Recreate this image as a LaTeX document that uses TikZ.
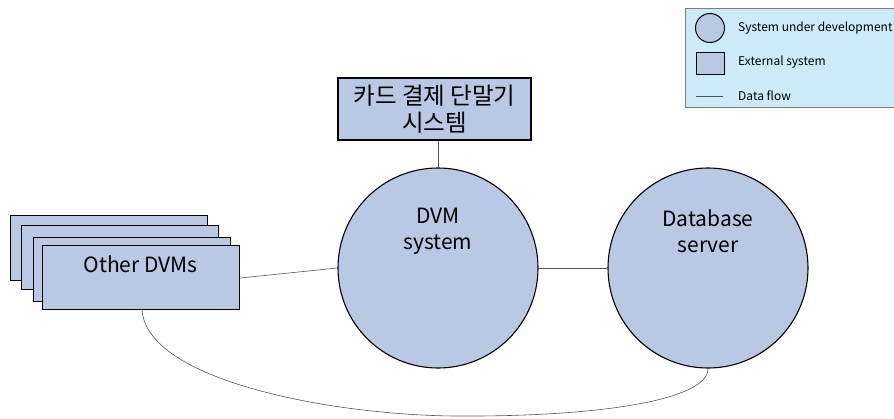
\documentclass[tikz,border=0pt]{standalone}
\usepackage{fontspec}
\setmainfont{Noto Sans CJK KR}
\definecolor{boxfill}{HTML}{B9C9E3}
\definecolor{legfill}{HTML}{CDEAF8}
\definecolor{linegray}{HTML}{555555}
\begin{document}
\begin{tikzpicture}[x=1pt,y=-1pt,
  ext/.style={draw=black,line width=1.2pt,fill=boxfill,inner sep=0pt},
  sys/.style={draw=black,line width=1.1pt,fill=boxfill,circle,minimum size=200pt,inner sep=0pt},
  flow/.style={draw=linegray,line width=0.6pt},
  big/.style={font=\fontsize{21}{29}\selectfont,align=center},
  kor/.style={font=\fontsize{23.5}{31}\selectfont,align=center},
  leg/.style={font=\fontsize{12}{14}\selectfont,anchor=west,inner sep=0pt}]
\useasboundingbox (0,0) rectangle (894,418);
% legend
\node[draw=gray,fill=legfill,minimum width=214pt,minimum height=99pt,anchor=north west,inner sep=0pt] (legend) at (685,8) {};
\node[draw=black,line width=1pt,fill=boxfill,circle,minimum size=29pt,inner sep=0pt] (lc) at (710,28) {};
\node[draw=black,line width=1pt,fill=boxfill,minimum width=28pt,minimum height=22pt,inner sep=0pt] (ls) at (710,63) {};
\coordinate (la) at (696,96);
\coordinate (lb) at (723,96);
\draw[flow] (la) -- (lb);
\node[leg] (t1) at (738,28) {System under development};
\node[leg] (t2) at (738,62) {External system};
\node[leg] (t3) at (738,96) {Data flow};
% card terminal
\node[ext,minimum width=193pt,minimum height=62pt,kor] (card) at (434.5,109) {카드 결제 단말기\\[-4pt]시스템};
% circles
\node[sys] (dvm) at (438,268) {};
\node[big] at (438,231) {DVM\\[-3pt]system};
\node[sys] (db) at (708,268) {};
\node[big] at (708,231) {Database\\[-3pt]server};
% other DVMs stack
\node[ext,minimum width=197pt,minimum height=65pt,anchor=north west] (o1) at (10,215) {};
\node[ext,minimum width=197pt,minimum height=64pt,anchor=north west] (o2) at (21,225) {};
\node[ext,minimum width=197pt,minimum height=64pt,anchor=north west] (o3) at (33,237) {};
\node[ext,minimum width=197pt,minimum height=64pt,anchor=north west] (o4) at (42,245) {};
\node[big] (otext) at (140.5,264) {Other DVMs};
% flows
\draw[flow] (card.south -| dvm.north) -- (dvm.north);
\draw[flow] (o4.east |- 0,278) coordinate (oe) -- (dvm.west);
\draw[flow] (dvm.east) -- (db.west);
\coordinate (ob) at (142,309);
\draw[flow] (ob) .. controls (145,380) and (330,415) .. (455,416) .. controls (600,417) and (708,400) .. (db.south);
\end{tikzpicture}
\end{document}
